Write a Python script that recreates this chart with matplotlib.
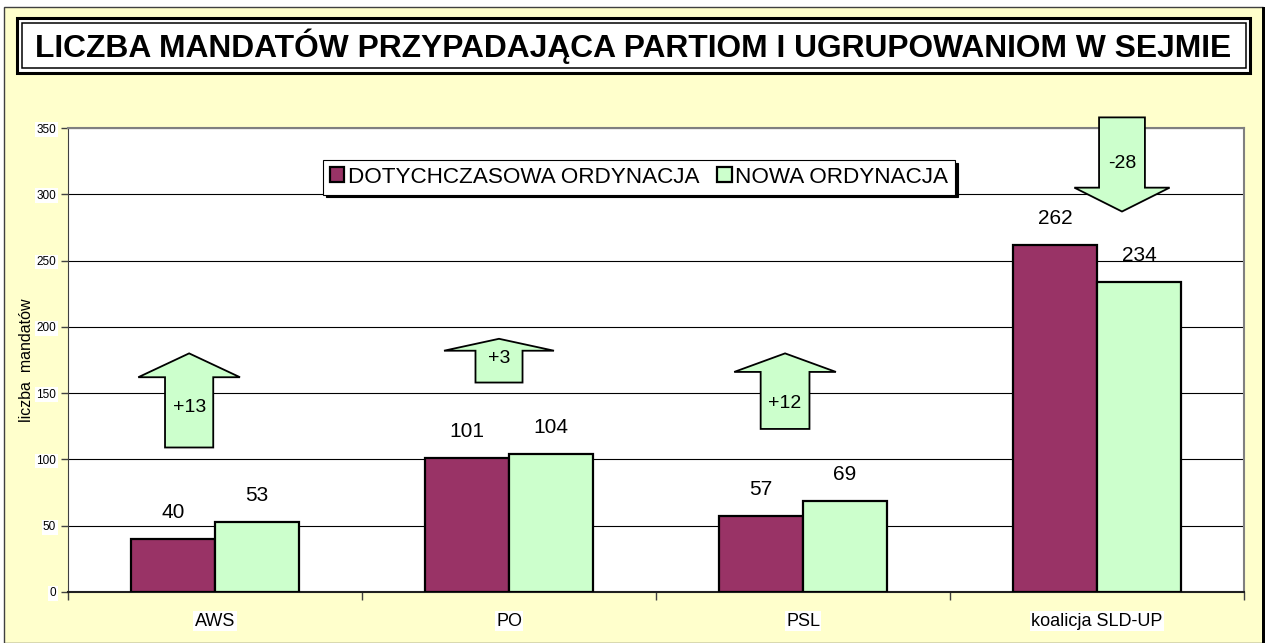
import matplotlib.pyplot as plt
import numpy as np
from matplotlib.patches import Rectangle, Polygon

plt.rcParams['font.family'] = ['Liberation Sans', 'DejaVu Sans']

# data
parties = ["AWS", "PO", "PSL", "koalicja SLD-UP"]
old_seats = [40, 101, 57, 262]
new_seats = [53, 104, 69, 234]
series_names = ["DOTYCHCZASOWA ORDYNACJA", "NOWA ORDYNACJA"]

# arrow layout: x offset from category, tail y, head base y, tip y, label y
arrow_dx = [-0.088, -0.034, -0.061, 0.085]
arrow_tail = [109, 158, 123, 358]
arrow_base = [162, 182, 166, 305]
arrow_tip = [180, 191, 180, 287]
arrow_text_y = [139, 176, 142, 323]
shaft_half = [0.082, 0.080, 0.083, 0.078]
head_half = [0.173, 0.187, 0.173, 0.162]

maroon = "#993366"
green = "#CCFFCC"
yellow = "#FFFFCC"

W, H = 1265, 643
fig = plt.figure(figsize=(W / 100, H / 100), dpi=100)
fig.patch.set_facecolor("white")

def fx(px):
    return px / W

def fy(py):
    return 1 - py / H

# outer chart area
fig.patches.append(Rectangle((fx(4), 0), fx(1259), fy(7), transform=fig.transFigure,
                             facecolor=yellow, edgecolor="#404040", lw=1, zorder=-2))
fig.patches.append(Rectangle((fx(1262), 0), fx(3), fy(7), transform=fig.transFigure,
                             facecolor="black", edgecolor="none", zorder=-2))

# title box (double frame)
fig.patches.append(Rectangle((fx(17), fy(73)), fx(1233), fy(18) - fy(73), transform=fig.transFigure,
                             facecolor="white", edgecolor="black", lw=2.2, zorder=1))
fig.patches.append(Rectangle((fx(22), fy(68)), fx(1224), fy(23) - fy(68), transform=fig.transFigure,
                             facecolor="white", edgecolor="black", lw=1.1, zorder=2))
fig.text(fx(633), fy(46), "LICZBA MANDATÓW PRZYPADAJĄCA PARTIOM I UGRUPOWANIOM W SEJMIE",
         ha="center", va="center", fontsize=22.9, fontweight="bold", zorder=3)

ax = fig.add_axes([fx(68), fy(592), fx(1244 - 68), fy(128) - fy(592)])
ax.set_facecolor("white")

x = np.arange(len(parties))
w = 0.285
b1 = ax.bar(x - w / 2, old_seats, w, color=maroon, edgecolor="black", lw=1.6, zorder=3,
            label=series_names[0])
b2 = ax.bar(x + w / 2, new_seats, w, color=green, edgecolor="black", lw=1.6, zorder=3,
            label=series_names[1])
for bars in (b1, b2):
    for r in bars:
        ax.text(r.get_x() + r.get_width() / 2, r.get_height() + 20, str(int(r.get_height())),
                ha="center", va="center", fontsize=15)

# arrows with change values
for i in range(len(parties)):
    cx = x[i] + arrow_dx[i]
    t, b, p = arrow_tail[i], arrow_base[i], arrow_tip[i]
    sh, hh = shaft_half[i], head_half[i]
    pts = [(cx - sh, t), (cx + sh, t), (cx + sh, b), (cx + hh, b), (cx, p),
           (cx - hh, b), (cx - sh, b)]
    ax.add_patch(Polygon(pts, closed=True, facecolor=green, edgecolor="black", lw=1.3,
                         zorder=5, clip_on=False))
    d = new_seats[i] - old_seats[i]
    ax.text(cx, arrow_text_y[i], f"{d:+d}", ha="center", va="center", fontsize=14, zorder=6)

ax.set_xlim(-0.5, len(parties) - 0.5)
ax.set_ylim(0, 350)
ax.set_yticks(np.arange(0, 351, 50))
ax.yaxis.grid(True, color="black", lw=0.8, zorder=0)
ax.set_axisbelow(True)
ax.set_xticks(x)
ax.set_xticklabels(parties, fontsize=13)
ax.set_xticks(np.arange(-0.5, len(parties), 1), minor=True)
ax.tick_params(axis="x", which="major", length=0, pad=15)
ax.tick_params(axis="x", which="minor", length=6, width=1, color="#404040")
ax.tick_params(axis="y", length=5, width=1, labelsize=8.5, color="#404040")
for lab in ax.get_xticklabels() + ax.get_yticklabels():
    lab.set_bbox(dict(facecolor="white", edgecolor="none", pad=1))
ax.spines["left"].set_color("#404040")
ax.spines["bottom"].set_color("#202020")
ax.spines["bottom"].set_linewidth(1.5)
ax.spines["top"].set_color("#808080")
ax.spines["right"].set_color("#808080")
ax.spines["top"].set_linewidth(1.5)
ax.spines["right"].set_linewidth(1.5)
ax.set_ylabel("liczba  mandatów", fontsize=11.5, labelpad=2)

leg = ax.legend(loc="upper left", bbox_to_anchor=(fx(323 - 68) / fx(1176), 1 - (160 - 128) / 464),
                ncol=2, fontsize=16.2, frameon=True, fancybox=False, shadow={"color": "black", "alpha": 1},
                handlelength=0.65, handleheight=0.65, handletextpad=0.15, columnspacing=0.8,
                borderpad=0.3, borderaxespad=0)
leg.get_frame().set_edgecolor("black")
leg.get_frame().set_linewidth(0.8)
leg.set_zorder(7)

fig.savefig("out.png", dpi=100)
